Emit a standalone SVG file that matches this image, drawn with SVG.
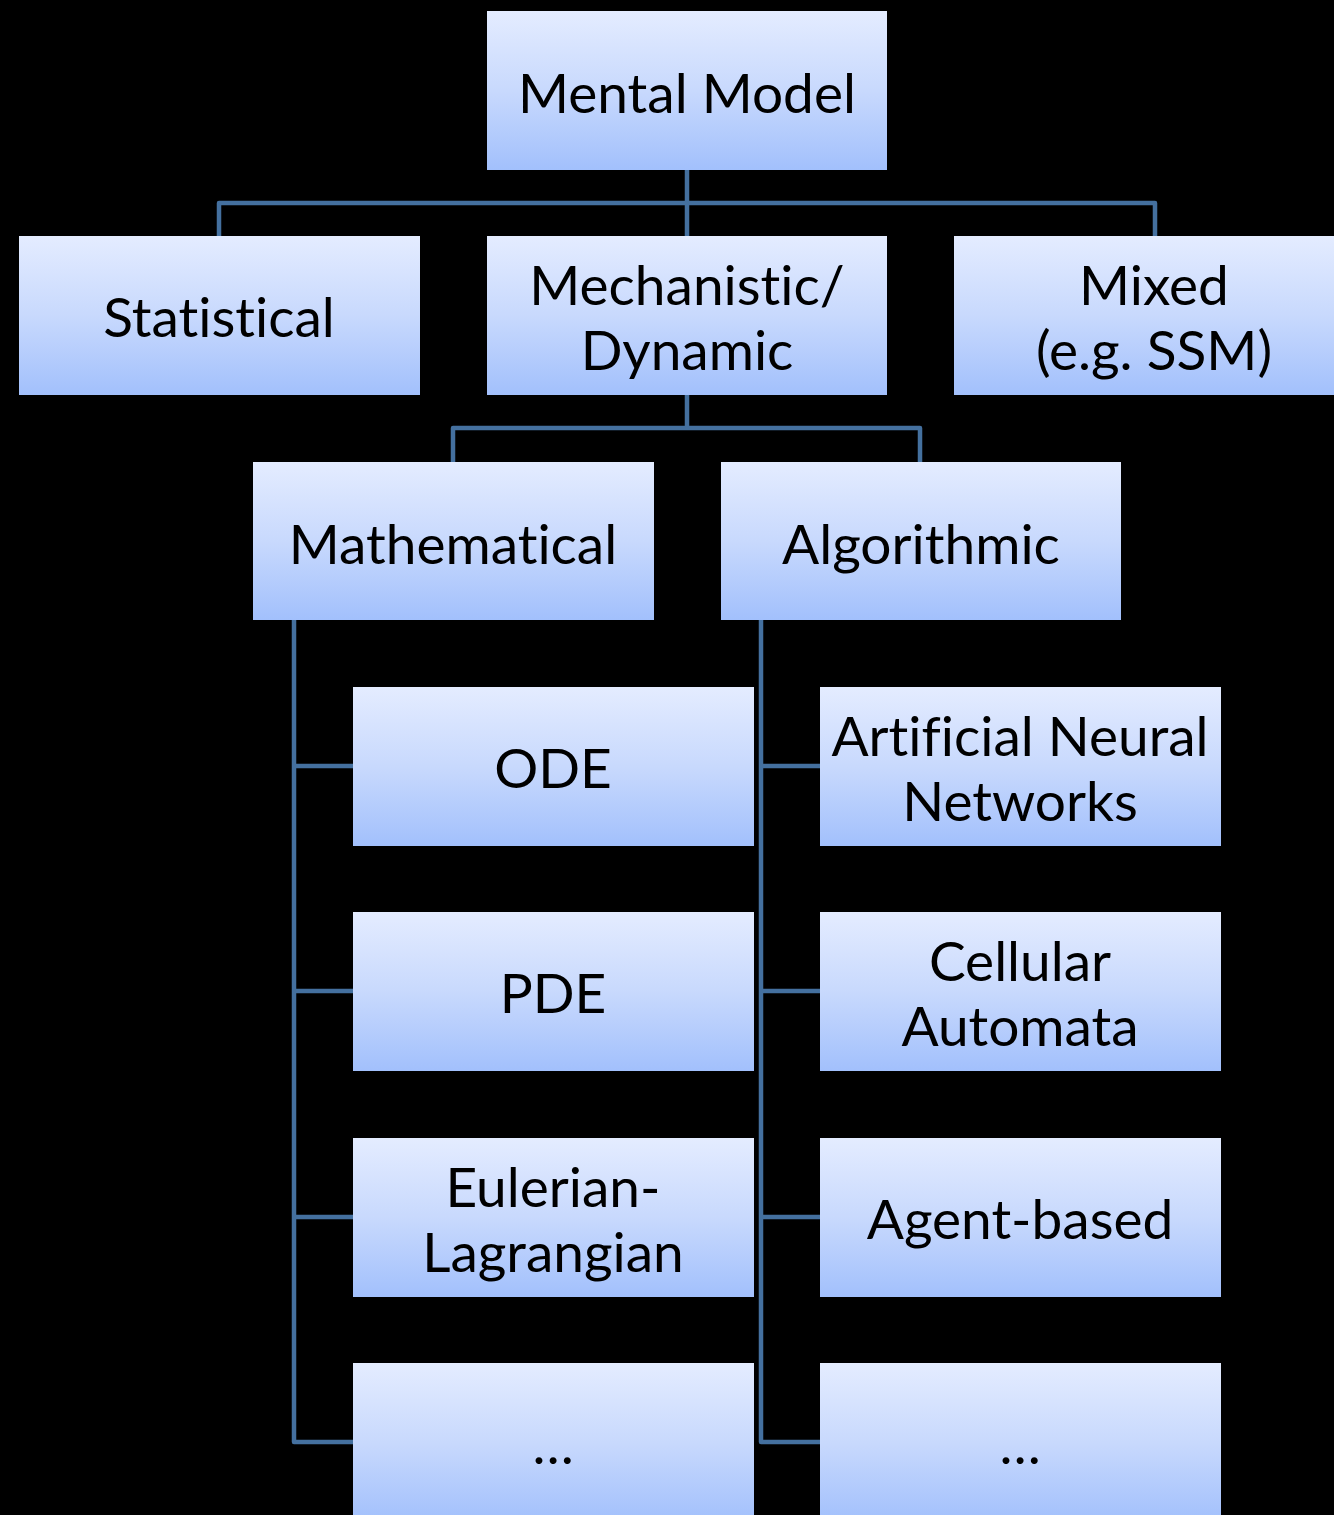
<svg xmlns="http://www.w3.org/2000/svg" width="1334" height="1515" viewBox="0 0 1334 1515">
  <defs>
    <linearGradient id="boxFill" x1="0" y1="0" x2="0" y2="1">
      <stop offset="0" stop-color="#e4ecff"/>
      <stop offset="0.5" stop-color="#c8d9fd"/>
      <stop offset="1" stop-color="#a2c0fc"/>
    </linearGradient>
    <style>
      .box { fill: url(#boxFill); }
      .lbl { font-family: Lato, "Liberation Sans", sans-serif; font-size: 55px; fill: #000; text-anchor: middle; font-variant-ligatures: none; }
      .wire { fill: none; stroke: #44709f; stroke-width: 4.5; stroke-linejoin: round; }
    </style>
  </defs>
  <rect width="1334" height="1515" fill="#000"/>

  <!-- connectors -->
  <g id="connectors">
    <path class="wire" d="M687 170 V236 M219 236 V203 H1155 V236"/>
    <path class="wire" d="M687 395 V428 M453 462 V428 H920 V462"/>
    <path class="wire" d="M294 620 V1442 H353 M294 766 H353 M294 991 H353 M294 1217 H353"/>
    <path class="wire" d="M761 620 V1442 H820 M761 766 H820 M761 991 H820 M761 1217 H820"/>
  </g>

  <g id="mental-model">
    <rect class="box" x="487" y="11" width="400" height="159"/>
    <text class="lbl" x="687" y="113">Mental Model</text>
  </g>
  <g id="statistical">
    <rect class="box" x="19" y="236" width="401" height="159"/>
    <text class="lbl" x="219" y="337">Statistical</text>
  </g>
  <g id="mechanistic">
    <rect class="box" x="487" y="236" width="400" height="159"/>
    <text class="lbl" x="687" y="305">Mechanistic/</text>
    <text class="lbl" x="687" y="370">Dynamic</text>
  </g>
  <g id="mixed">
    <rect class="box" x="954" y="236" width="401" height="159"/>
    <text class="lbl" x="1154" y="305">Mixed</text>
    <text class="lbl" x="1154" y="370">(e.g. SSM)</text>
  </g>
  <g id="mathematical">
    <rect class="box" x="253" y="462" width="401" height="158"/>
    <text class="lbl" x="453" y="564">Mathematical</text>
  </g>
  <g id="algorithmic">
    <rect class="box" x="721" y="462" width="400" height="158"/>
    <text class="lbl" x="921" y="564">Algorithmic</text>
  </g>

  <g id="ode">
    <rect class="box" x="353" y="687" width="401" height="159"/>
    <text class="lbl" x="553" y="788">ODE</text>
  </g>
  <g id="pde">
    <rect class="box" x="353" y="912" width="401" height="159"/>
    <text class="lbl" x="553" y="1013">PDE</text>
  </g>
  <g id="eulerian-lagrangian">
    <rect class="box" x="353" y="1138" width="401" height="159"/>
    <text class="lbl" x="553" y="1207">Eulerian-</text>
    <text class="lbl" x="553" y="1272">Lagrangian</text>
  </g>
  <g id="math-more">
    <rect class="box" x="353" y="1363" width="401" height="159"/>
    <text class="lbl" x="553" y="1464">…</text>
  </g>

  <g id="ann">
    <rect class="box" x="820" y="687" width="401" height="159"/>
    <text class="lbl" x="1020" y="756">Artificial Neural</text>
    <text class="lbl" x="1020" y="821">Networks</text>
  </g>
  <g id="cellular-automata">
    <rect class="box" x="820" y="912" width="401" height="159"/>
    <text class="lbl" x="1020" y="981">Cellular</text>
    <text class="lbl" x="1020" y="1046">Automata</text>
  </g>
  <g id="agent-based">
    <rect class="box" x="820" y="1138" width="401" height="159"/>
    <text class="lbl" x="1020" y="1239">Agent-based</text>
  </g>
  <g id="algo-more">
    <rect class="box" x="820" y="1363" width="401" height="159"/>
    <text class="lbl" x="1020" y="1464">…</text>
  </g>
</svg>
